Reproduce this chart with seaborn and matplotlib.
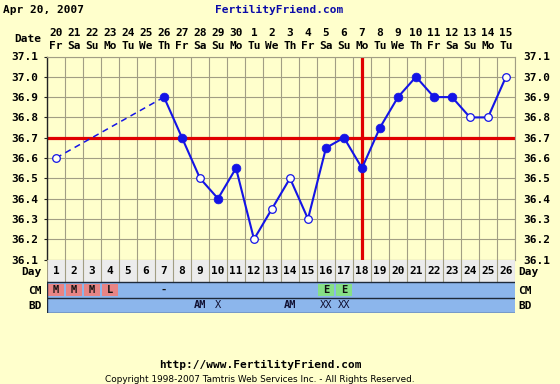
import numpy as np
import pandas as pd
import matplotlib
matplotlib.use("Agg")
import matplotlib.pyplot as plt
import seaborn as sns
from matplotlib.patches import Rectangle

# ---------------- data ----------------
days = list(range(1, 27))
dates = ['20', '21', '22', '23', '24', '25', '26', '27', '28', '29', '30', '1', '2',
         '3', '4', '5', '6', '7', '8', '9', '10', '11', '12', '13', '14', '15']
weekdays = ['Fr', 'Sa', 'Su', 'Mo', 'Tu', 'We', 'Th', 'Fr', 'Sa', 'Su', 'Mo', 'Tu', 'We',
            'Th', 'Fr', 'Sa', 'Su', 'Mo', 'Tu', 'We', 'Th', 'Fr', 'Sa', 'Su', 'Mo', 'Tu']
temps = [36.6, np.nan, np.nan, np.nan, np.nan, np.nan, 36.9, 36.7, 36.5, 36.4, 36.55, 36.2, 36.35,
         36.5, 36.3, 36.65, 36.7, 36.55, 36.75, 36.9, 37.0, 36.9, 36.9, 36.8, 36.8, 37.0]
filled = [0, 0, 0, 0, 0, 0, 1, 1, 0, 1, 1, 0, 0,
          0, 0, 1, 1, 1, 1, 1, 1, 1, 1, 0, 0, 0]
cm = ['M', 'M', 'M', 'L', '', '', '-', '', '', '', '', '', '',
      '', '', 'E', 'E', '', '', '', '', '', '', '', '', '']
bd = ['', '', '', '', '', '', '', '', 'AM', 'X', '', '', '',
      'AM', '', 'XX', 'XX', '', '', '', '', '', '', '', '', '']
yticks = [37.1, 37.0, 36.9, 36.8, 36.7, 36.6, 36.5, 36.4, 36.3, 36.2, 36.1]
coverline = 36.7
ovulation_day = 18
title_date = 'Apr 20, 2007'
site = 'FertilityFriend.com'
url = 'http://www.FertilityFriend.com'
copyright_txt = 'Copyright 1998-2007 Tamtris Web Services Inc. - All Rights Reserved.'

# ---------------- style ----------------
BG = '#FFFFCC'
GRID = '#A29E84'
BLUE = '#1414E6'
RED = '#E00000'
CELL_BLUE = '#8CB6EC'
DAYROW = '#ECECEC'
DARK = '#1E2A3A'
MONO = 'DejaVu Sans Mono'
FS = 8

W, H = 560, 384
fig = plt.figure(figsize=(W / 100, H / 100), dpi=100, facecolor=BG)


def fx(x):
    return x / W


def fy(y):
    return 1 - y / H


L, R, T, B = 47, 515, 56.5, 259.5
ax = fig.add_axes([fx(L), fy(B), (R - L) / W, (B - T) / H])
ax.set_facecolor(BG)
ax.set_xlim(0.5, 26.5)
ax.set_ylim(36.1, 37.1)

# grid
for xv in np.arange(0.5, 27, 1):
    ax.axvline(xv, color=GRID, lw=0.8, zorder=1)
for yv in yticks:
    ax.axhline(yv, color=GRID, lw=0.8, zorder=1)

# coverline & ovulation line
ax.axhline(coverline, color=RED, lw=2.3, zorder=2)
ax.axvline(ovulation_day, color=RED, lw=2.3, zorder=2)

df = pd.DataFrame({'day': days, 'temp': temps, 'filled': filled})
valid = df.dropna(subset=['temp']).reset_index(drop=True)

# solid runs of consecutive days, dashed across gaps
run = [0]
for i in range(1, len(valid)):
    if valid.loc[i, 'day'] - valid.loc[i - 1, 'day'] == 1:
        run.append(i)
    else:
        if len(run) > 1:
            sns.lineplot(data=valid.iloc[run], x='day', y='temp', ax=ax, color=BLUE,
                         lw=1.5, estimator=None, sort=False, zorder=4)
        seg = valid.iloc[[i - 1, i]]
        sns.lineplot(data=seg, x='day', y='temp', ax=ax, color=BLUE, lw=1.1,
                     estimator=None, sort=False, zorder=4, dashes=False,
                     linestyle=(0, (4, 3)))
        run = [i]
if len(run) > 1:
    sns.lineplot(data=valid.iloc[run], x='day', y='temp', ax=ax, color=BLUE,
                 lw=1.5, estimator=None, sort=False, zorder=4)

sns.scatterplot(data=valid[valid['filled'] == 1], x='day', y='temp', ax=ax, s=40,
                color=BLUE, edgecolor=BLUE, linewidth=0.5, zorder=5)
sns.scatterplot(data=valid[valid['filled'] == 0], x='day', y='temp', ax=ax, s=30,
                facecolor='#FFFFF4', edgecolor=BLUE, linewidth=0.9, zorder=5)

ax.set_xlabel('')
ax.set_ylabel('')
ax.set_xticks([])
ax.set_yticks(yticks)
ax.set_yticklabels([f'{v:.1f}' for v in yticks], fontfamily=MONO, fontweight='bold',
                   fontsize=FS)
ax.tick_params(axis='y', left=True, right=False, labelleft=True, labelright=True,
               length=2, width=0.8, color='#222222', pad=4)
for s in ['top', 'right', 'bottom']:
    ax.spines[s].set_color(GRID)
    ax.spines[s].set_linewidth(0.8)
ax.spines['left'].set_color('#222222')
ax.spines['left'].set_linewidth(1.0)
if ax.get_legend():
    ax.get_legend().remove()

# ---------------- table below ----------------
TB = 313
tab = fig.add_axes([fx(L), fy(TB), (R - L) / W, (TB - B) / H])
tab.set_xlim(0.5, 26.5)
tab.set_ylim(TB - B, 0)
tab.axis('off')
r_day = (0, 22.5)
r_cm = (22.5, 38.5)
r_bd = (38.5, TB - B)

tab.add_patch(Rectangle((0.5, r_day[0]), 26, r_day[1] - r_day[0], facecolor=DAYROW,
                        edgecolor='none', zorder=1))
tab.add_patch(Rectangle((0.5, r_cm[0]), 26, r_bd[1] - r_cm[0], facecolor=CELL_BLUE,
                        edgecolor='none', zorder=1))
for xv in np.arange(0.5, 27, 1):
    tab.plot([xv, xv], [r_day[0], r_day[1]], color=GRID, lw=0.8, zorder=2)
for yv in [r_cm[0], r_bd[0], r_bd[1] - 0.5]:
    tab.plot([0.5, 26.5], [yv, yv], color=DARK, lw=1.0, zorder=3)
tab.plot([0.5, 0.5], [r_cm[0], r_bd[1]], color=DARK, lw=1.0, zorder=3)

for i, d in enumerate(days):
    tab.text(d, (r_day[0] + r_day[1]) / 2 + 0.5, str(d), ha='center', va='center',
             fontfamily=MONO, fontweight='bold', fontsize=FS, zorder=4)
    c = cm[i]
    if c in ('M', 'L', 'E'):
        col = '#E88484' if c in ('M', 'L') else '#86E086'
        tab.add_patch(Rectangle((d - 0.42, r_cm[0] + 2), 0.84, 12, facecolor=col,
                                edgecolor='none', zorder=2))
    if c:
        tab.text(d, (r_cm[0] + r_cm[1]) / 2, c, ha='center', va='center',
                 fontfamily=MONO, fontweight='bold', fontsize=FS - 0.5, color='#111111',
                 zorder=4)
    b = bd[i]
    if b:
        tab.text(d, (r_bd[0] + r_bd[1]) / 2, b, ha='center', va='center',
                 fontfamily=MONO, fontweight='bold' if b == 'AM' else 'normal',
                 fontsize=FS - 0.5, color='#111133', zorder=4)

# row labels
for lab, yy in [('Day', 272), ('CM', 291), ('BD', 306)]:
    fig.text(fx(41.5), fy(yy), lab, ha='right', va='center', fontfamily=MONO,
             fontweight='bold', fontsize=FS)
    fig.text(fx(518), fy(yy), lab, ha='left', va='center', fontfamily=MONO,
             fontweight='bold', fontsize=FS)

# ---------------- top labels ----------------
for i, d in enumerate(days):
    xpix = L + (d - 0.5) * (R - L) / 26
    fig.text(fx(xpix), fy(33), dates[i], ha='center', va='center', fontfamily=MONO,
             fontweight='bold', fontsize=FS)
    fig.text(fx(xpix), fy(46), weekdays[i], ha='center', va='center', fontfamily=MONO,
             fontweight='bold', fontsize=FS)
fig.text(fx(41.5), fy(39), 'Date', ha='right', va='center', fontfamily=MONO,
         fontweight='bold', fontsize=FS)

fig.text(fx(3), fy(10), title_date, ha='left', va='center', fontfamily=MONO,
         fontweight='bold', fontsize=FS)
fig.text(fx(279), fy(10), site, ha='center', va='center', fontfamily=MONO,
         fontweight='bold', fontsize=FS, color='#0A0AA8')

fig.text(fx(260), fy(365), url, ha='center', va='center', fontfamily=MONO,
         fontweight='bold', fontsize=FS)
fig.text(fx(260), fy(379), copyright_txt, ha='center', va='center',
         fontfamily='DejaVu Sans', fontsize=6.4)

fig.savefig('out.png', dpi=100, facecolor=BG)
